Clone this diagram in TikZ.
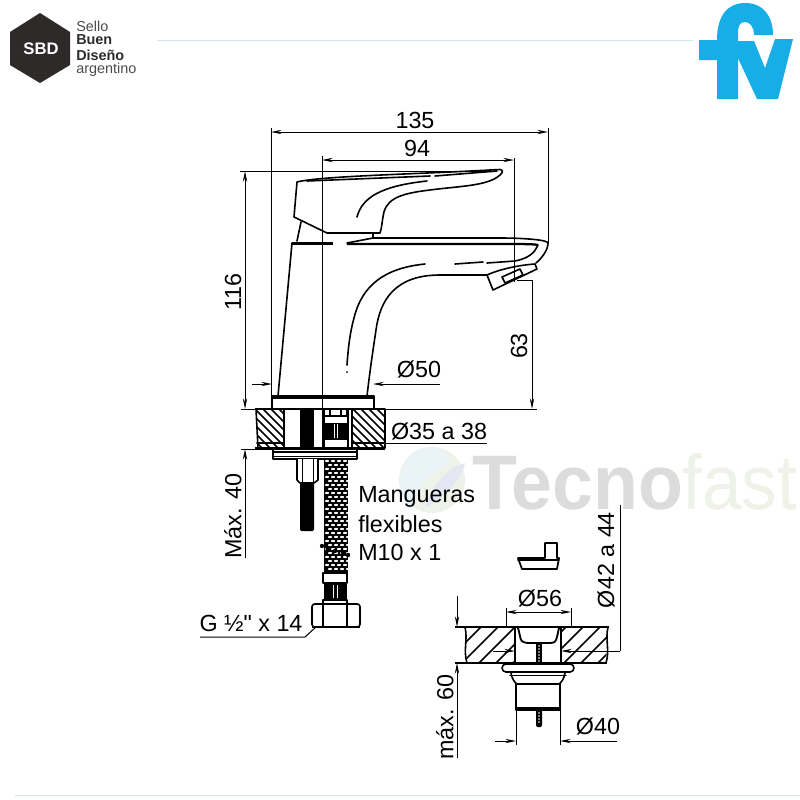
\documentclass[tikz,border=0pt]{standalone}
\usepackage{fontspec}
\usepackage{graphicx}
\setmainfont{Liberation Sans}
\newfontfamily\plainq{Liberation Sans}[Ligatures=NoCommon]
\usetikzlibrary{arrows.meta}
\definecolor{fvblue}{HTML}{17AEE8}
\definecolor{sbddark}{HTML}{2F2A2A}
\definecolor{ruleblue}{HTML}{CFE6EE}
\definecolor{wmgray}{HTML}{DCDCDC}
\definecolor{wmgreen}{HTML}{EEF2E8}
\definecolor{wmblue}{HTML}{EAF3F8}
\definecolor{wmlav}{HTML}{E4E7F3}
\tikzset{
  part/.style={line width=1.2pt,line join=round,line cap=round},
  heavy/.style={line width=1.7pt,line cap=butt},
  thin part/.style={line width=0.7pt},
  dim/.style={line width=0.75pt},
  arr/.style={dim,-{Stealth[length=8pt,width=3.2pt]}},
  darr/.style={dim,{Stealth[length=8pt,width=3.2pt]}-{Stealth[length=8pt,width=3.2pt]}},
  label/.style={inner sep=0pt,font=\fontsize{17.5}{19}\selectfont},
  hatchline/.style={line width=1.2pt},
}
\begin{document}
\begin{tikzpicture}[x=0.75pt,y=-0.75pt]
\useasboundingbox (0,0) rectangle (800,800);
% rules
\draw[ruleblue,line width=0.7pt] (157,40) -- (693,40);
\draw[ruleblue,line width=0.7pt] (15,795) -- (800,795);
% SBD logo
\fill[sbddark] (40,13) -- (70,32) -- (70,65) -- (40,83) -- (10,65) -- (10,32) -- cycle;
\node[inner sep=0pt,text=white,font=\fontsize{12.5}{14}\selectfont\bfseries] (sbd) at (41,49) {SBD};
\node[inner sep=0pt,anchor=west,text=sbddark!85,font=\fontsize{10.8}{12}\selectfont] (sello) at (76,26) {Sello};
\node[inner sep=0pt,anchor=west,text=sbddark,font=\fontsize{10.8}{12}\selectfont\bfseries] (buen) at (76,40) {Buen};
\node[inner sep=0pt,anchor=west,text=sbddark,font=\fontsize{10.8}{12}\selectfont\bfseries] (diseno) at (76,55) {Diseño};
\node[inner sep=0pt,anchor=west,text=sbddark!85,font=\fontsize{10.8}{12}\selectfont] (argentino) at (76,70) {argentino};
% fv logo
\fill[fvblue] (699,40) -- (717,40) .. controls (717,15) and (728,3) .. (745,3)
  .. controls (764,3) and (773,17) .. (773,35) -- (754,35)
  .. controls (754,27) and (750,22) .. (745,22) .. controls (740,22) and (738,26) .. (738,32)
  -- (738,60) -- (738,99) -- (717,99) -- (717,60) -- (699,60) -- cycle;
\fill[fvblue] (737,41) -- (754,41) -- (765,68) -- (775,39) -- (793,39) -- (778,99) -- (757,99) -- (737,56) -- cycle;
% watermark
\fill[wmgreen] (432,480) circle (33);
\fill[wmblue] (410,510) .. controls (392,490) and (400,450) .. (425,448) .. controls (445,447) and (452,455) .. (448,465) .. controls (430,470) and (415,490) .. (410,510) -- cycle;
\fill[wmlav] (425,508) .. controls (430,490) and (445,468) .. (465,463) .. controls (462,480) and (445,495) .. (425,508) -- cycle;
\node[inner sep=0pt,anchor=base west,text=wmgray,font=\fontsize{58}{60}\selectfont\bfseries] (tecno) at (472,509) {\scalebox{0.95}[1]{Tecno}};
\node[inner sep=0pt,anchor=base west,text=wmgreen,font=\fontsize{58}{60}\selectfont] (fast) at (682,509) {\scalebox{0.92}[1]{fast}};

% === handle
\draw[part,fill=white] (297,182) .. controls (320,176) and (420,174) .. (490,170) -- (500,169.5)
  .. controls (503,170) and (503,172) .. (501,174) .. controls (490,186) and (460,186) .. (430,190)
  .. controls (405,193) and (388,197) .. (384,212) .. controls (382,220) and (382,228) .. (380,233)
  -- (327,233) -- (294,217) -- cycle;
\draw[part] (307,181) -- (430,176);
\draw[part] (435,176) -- (497,171);
\draw[part] (357,217) .. controls (362,198) and (380,186) .. (427,181);
\draw[part] (301,222) -- (297,241);
\draw[part] (373,233) -- (373,238);
% === spout and body
\draw[part] (278,396) -- (292,243);
\draw[heavy,line width=2.2pt] (292,243.5) -- (333,243.5);
\draw[heavy] (347,244) -- (500,244) .. controls (520,244) and (535,244) .. (538,245);
\draw[part] (347,243) -- (373,238) -- (500,238) .. controls (525,238) and (548,240) .. (548,243)
  .. controls (548,250) and (542,258) .. (536,263);
\draw[part] (538,245) .. controls (535,252) and (530,258) .. (515,261) -- (487,263);
\draw[part] (455,264) -- (483,262);
\draw[part] (425,264) .. controls (385,268) and (362,285) .. (354,318) .. controls (350,332) and (348,350) .. (347,365);
\fill (347,372) circle (1);
\draw[part] (487,275) -- (470,275) -- (440,275) .. controls (395,275) and (380,300) .. (376,330)
  .. controls (373,350) and (370,370) .. (367,396);
% aerator
\draw[part,fill=white] (487,275) -- (493,290) -- (537,269) -- (535,264) .. controls (520,265) and (500,269) .. (487,275) -- cycle;
\draw[part,fill=white] (502,277) -- (520,269) -- (523,275) -- (505,283) -- cycle;
% base
\draw[part,fill=white] (272,396) rectangle (374,409);
\draw[heavy] (272,398) -- (374,398);
% counter hatch
\begin{scope}
  \clip (256,409) -- (284,409) -- (284,448) -- (258,448) -- cycle;
  \foreach \k in {-40,-32,...,60} \draw[hatchline] (255+\k,409) -- (255+\k+45,454);
\end{scope}
\begin{scope}
  \clip (353,409) rectangle (385,448);
  \foreach \k in {-40,-32,...,60} \draw[hatchline] (345+\k,409) -- (345+\k+45,454);
\end{scope}
\draw[part] (256,409) -- (258,448) -- (284,448) (353,448) -- (385,448) -- (385,409);
\draw[heavy] (255,409) -- (385,409);
\draw[heavy] (255,448.5) -- (385,448.5);
\draw[part] (257,443) -- (284,443) (353,443) -- (385,443);
\draw[part] (284,409) -- (284,448) (352,409) -- (352,448) (348,409) -- (348,448);
% stud
\fill (300,409) rectangle (314,448);
\draw[part] (323,409) -- (323,448);
% fitting inside counter
\fill (323,409) rectangle (348,448);
\fill[white] (325,410) rectangle (346,415);
\fill[white] (324.5,417) rectangle (346.5,422.5);
\fill[white] (324.5,440) rectangle (346.5,447);
\draw[white,line width=0.6pt] (334,424) -- (334,438) (337,424) -- (337,438);
\draw[line width=0.9pt] (330,409.5) -- (330,415) (341,409.5) -- (341,415);
% plate
\draw[part,fill=white] (273,449) rectangle (357,459);
\draw[part] (273,452) -- (357,452) (273,456.5) -- (357,456.5);
\draw[heavy] (273,459) -- (357,459);
% nut and stud
\draw[part,fill=white] (297,459) -- (297,480) -- (300,483) -- (314,483) -- (318,480) -- (318,459);
\draw[thin part] (302,459) -- (302,483) (313,459) -- (313,483);
\fill[rounded corners=1pt] (300,483) rectangle (314,531);
% hose
\fill (324,459) rectangle (348,573);
\foreach \r in {0,...,27} {
  \pgfmathsetmacro{\yy}{461+4*\r}
  \pgfmathsetmacro{\off}{mod(\r,2)*3}
  \foreach \c in {0,1,2,3} {
    \fill[white] (327+\off+\c*6,\yy) ellipse (2.1 and 1.1);
  }
}
\fill (322,546) circle (2.2);
\fill (328,549) circle (2.2);
\fill (335,551) circle (2.2);
\fill (343,553) circle (2.2);
\fill (348,555) circle (2.2);
\draw[part,fill=white] (323,573) rectangle (347,583);
\fill (324,583) rectangle (347,600);
\draw[white,line width=0.6pt] (333,585) -- (333,598) (337,585) -- (337,598);
\draw[part,fill=white] (323,600) rectangle (347,605);
\draw[part,fill=white,rounded corners=2pt] (312,604) rectangle (360,627);
\draw[part] (323,604) -- (323,627) (347,604) -- (347,627);
\draw[heavy,line width=1.5pt] (312,627) -- (360,627);

% === dimensions of the mixer
\draw[dim] (271,128) -- (271,396);
\draw[dim] (548,128) -- (548,243);
\draw[darr] (271,132) -- (548,132);
\node[label] (d135) at (415,120) {135};
\draw[dim] (322,156) -- (322,448);
\draw[dim] (514,158) -- (514,282);
\draw[darr] (322,160) -- (514,160);
\node[label] (d94) at (417,148) {94};
\draw[dim] (240,171) -- (490,171);
\draw[darr] (245,171) -- (245,409);
\node[label,rotate=90] (d116) at (233,292) {116};
\draw[dim] (241,409) -- (255,409) (385,409) -- (537,409);
\draw[dim] (517,280) -- (532,280);
\draw[arr] (532,280) -- (532,409);
\node[label,rotate=90] (d63) at (519,346) {63};
\draw[arr] (252,384) -- (272,384);
\draw[arr] (440,384) -- (373,384);
\node[label] (d50) at (419,369) {Ø50};
\draw[dim] (385,443) -- (487,443);
\node[label] (d35) at (439,431) {Ø35 a 38};
\draw[dim] (241,449) -- (255,449);
\draw[arr] (245,558) -- (245,449);
\node[label,rotate=90] (d40) at (233,516) {Máx. 40};
\node[label,anchor=west] (mang1) at (358,497) {Mangueras};
\node[label,anchor=west] (mang2) at (358,524) {flexibles};
\node[label,anchor=west] (mang3) at (358,552) {M10 x 1};
\node[label] (dg) at (251,623) {\plainq G ½" x 14};
\draw[dim] (200,637) -- (305,637) -- (316,627);

% === waste set
\draw[part,line width=1.3pt,fill=white] (518,558) -- (545,558) -- (545,543) -- (557,543) -- (557,558) -- (559,558) -- (557,569) -- (522,569) -- cycle;
\draw[part] (518,560) -- (559,560);
% sink hatch
\begin{scope}
  \clip (465,627) -- (515,627) -- (515,663) -- (467,663) -- cycle;
  \foreach \k in {0,17,...,119} \draw[hatchline] (440+\k,668) -- (440+\k+45,623);
\end{scope}
\begin{scope}
  \clip (562,627) -- (608,627) -- (606,663) -- (562,663) -- cycle;
  \foreach \k in {0,17,...,102} \draw[hatchline] (525+\k,668) -- (525+\k+45,623);
\end{scope}
\draw[part] (465,627) .. controls (468,640) and (463,650) .. (467,663);
\draw[part] (608,627) .. controls (605,640) and (610,650) .. (606,663);
\draw[heavy] (455,627) -- (609,627);
\draw[heavy] (455,663) -- (607,663);
\draw[heavy] (515,627) -- (515,663) (561,627) -- (561,663);
\draw[heavy,line width=1.4pt] (518,628) .. controls (520,634) and (520,640) .. (522,641) .. controls (524,643) and (528,643) .. (530,643) -- (550,643) .. controls (555,643) and (556,641) .. (557,637) -- (559,628);
\fill (536,644) rectangle (542,663);
\foreach \yy in {646,649,...,661} \fill[white] (539,\yy) circle (0.9);
% flange
\draw[part,fill=white,rounded corners=3pt] (502,664) rectangle (574,672);
\draw[part,fill=white] (511,673) .. controls (512,679) and (515,683) .. (517,684) -- (559,684) .. controls (561,683) and (564,679) .. (565,673);
\draw[part] (510,675.5) -- (566,675.5);
\draw[part,fill=white] (516,684) rectangle (560,710);
\draw[heavy] (516,708.5) -- (560,708.5);
\fill[rounded corners=1pt] (536,710) rectangle (542,727);
\foreach \yy in {713,716,...,724} \fill[white] (539,\yy) circle (0.9);
% dimensions of the waste set
\draw[dim] (506,608) -- (506,627) (571,608) -- (571,627);
\draw[darr] (506,612) -- (571,612);
\node[label] (d56) at (540,598) {Ø56};
\draw[arr] (457,596) -- (457,627);
\draw[arr] (457,758) -- (457,663);
\node[label,rotate=90] (d60) at (445,717) {máx. 60};
\draw[dim] (620,505) -- (620,651);
\draw[arr] (620,651) -- (561,651);
\draw[arr] (493,651) -- (515,651);
\node[label,rotate=90] (d42) at (606,560) {Ø42 a 44};
\draw[dim] (516,710) -- (516,745) (560,710) -- (560,745);
\draw[arr] (495,741) -- (516,741);
\draw[arr] (617,741) -- (560,741);
\node[label] (d4) at (598,726) {Ø40};
\end{tikzpicture}
\end{document}
